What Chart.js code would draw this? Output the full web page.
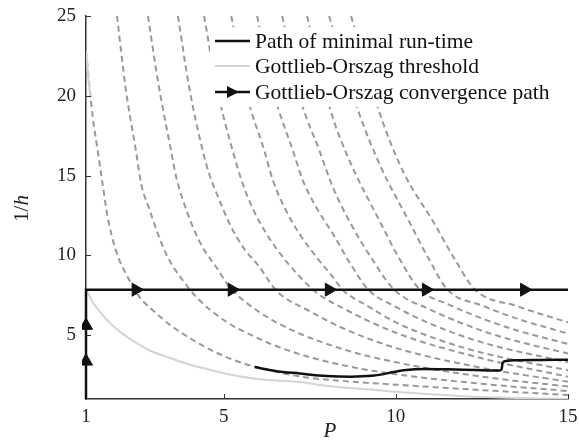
<!DOCTYPE html>
<html>
<head>
<meta charset="utf-8">
<script src="https://cdn.jsdelivr.net/npm/chart.js@4.4.0/dist/chart.umd.min.js"></script>
<style>
body { margin: 0; background: #fff; }
canvas { display: block; }
</style>
</head>
<body>
<canvas id="chart" width="579" height="444"></canvas>
<script>
// axis ticks
var xTicks = [1, 5, 10, 15]
var yTicks = [5, 10, 15, 20, 25]

// run-time contours, [P, 1/h] pairs, lowest first
var contour0 = [[1, 22.8], [1.2, 18.6], [1.34, 16.56], [1.48, 14.5], [1.63, 12.4], [1.87, 10.3], [2.26, 8.44], [2.55, 7.4], [3.0, 6.45], [3.5, 5.55], [4.3, 4.45], [5.0, 3.7], [5.7, 3.15], [7.2, 2.42], [8.5, 2.12], [10, 1.9], [12, 1.62], [15, 1.25]]
var contour1 = [[1.9, 25], [2.15, 20.5], [2.45, 16.56], [2.6, 14.5], [2.84, 12.9], [3.08, 11.4], [3.37, 9.9], [3.81, 8.44], [4.2, 7.4], [5, 5.95], [6, 4.8], [7, 3.95], [8.5, 3.1], [10, 2.55], [12.5, 1.95], [15, 1.5]]
var contour2 = [[2.8, 25], [3.1, 20.8], [3.47, 16.56], [3.62, 14.9], [3.81, 13.5], [4.1, 11.8], [4.39, 10.5], [4.78, 9.27], [5.17, 8.02], [6, 6.5], [7, 5.3], [8.5, 4.1], [10, 3.3], [12.5, 2.4], [15, 1.78]]
var contour3 = [[3.67, 25], [4.0, 20.5], [4.39, 16.56], [4.58, 15.1], [4.88, 13.44], [5.17, 11.98], [5.56, 10.52], [6.04, 9.27], [6.52, 7.81], [7.5, 6.5], [8.5, 5.4], [10, 4.2], [12.5, 2.95], [15, 2.08]]
var contour4 = [[4.43, 25], [4.8, 20.5], [5.26, 16.56], [5.55, 14.5], [5.85, 12.9], [6.23, 11.4], [6.62, 10.17], [7.1, 8.92], [7.69, 7.67], [8.5, 6.65], [10, 5.15], [12.5, 3.55], [15, 2.4]]
var contour5 = [[5.22, 25], [5.65, 20.2], [6.18, 16.56], [6.43, 14.69], [6.81, 12.81], [7.2, 11.35], [7.69, 9.9], [8.17, 8.64], [8.45, 7.85], [9.2, 6.8], [10, 5.8], [11.2, 4.75], [12.5, 3.9], [15, 2.8]]
var contour6 = [[5.97, 25], [6.45, 20.2], [7.01, 16.56], [7.3, 14.69], [7.69, 13.0], [8.17, 11.35], [8.7, 9.4], [9.2, 7.85], [10, 6.77], [11, 5.72], [12.5, 4.55], [15, 3.3]]
var contour7 = [[6.7, 25], [7.2, 20.0], [7.78, 16.56], [8.17, 14.27], [8.67, 12.06], [9.3, 9.8], [9.95, 7.85], [11, 6.6], [12.5, 5.28], [13.5, 4.63], [15, 3.85]]
var contour8 = [[7.42, 25], [8.1, 19.1], [8.6, 16.2], [9.55, 12.06], [10.1, 9.8], [10.7, 7.85], [11.5, 6.95], [12.5, 6.05], [13.5, 5.31], [15, 4.45]]
var contour9 = [[8.06, 25], [8.9, 19.1], [9.55, 15.6], [10.4, 12.06], [10.95, 9.8], [11.5, 7.85], [12.5, 6.86], [13.5, 6.05], [15, 5.1]]
var contour10 = [[8.7, 25], [9.5, 19.1], [10.2, 15.3], [11.1, 12.06], [11.7, 9.8], [12.3, 7.85], [13.5, 6.83], [15, 5.8]]

// Gottlieb-Orszag threshold (short piece near the top of the 1/h axis, then the main curve)
var thresholdTop = [[1, 22.8], [1.06, 21.3], [1.12, 19.9]]
var threshold = [[1, 7.85], [1.2, 7.05], [1.41, 6.44], [1.7, 5.75], [2, 5.19], [2.4, 4.6], [2.86, 4.04], [3.4, 3.6], [3.93, 3.21], [4.5, 2.88], [5, 2.62], [6, 2.25], [7.2, 2.06], [8.1, 1.8], [9.5, 1.55], [10, 1.45], [11, 1.3], [12, 1.17], [13.5, 1.06], [15, 1.0]]

// path of minimal run-time
var minPath = [[5.9, 3.0], [6.5, 2.76], [7.2, 2.6], [8.0, 2.44], [8.7, 2.4], [9.3, 2.45], [9.65, 2.56], [9.9, 2.68], [10.3, 2.82], [10.8, 2.88], [11.5, 2.86], [12.3, 2.82], [13.0, 2.79], [13.07, 2.85], [13.1, 3.25], [13.2, 3.38], [13.5, 3.43], [14.2, 3.45], [15, 3.46]]

// Gottlieb-Orszag convergence path, arrows where markerAngle is set
var convP = [1, 1, 1, 1, 2.45, 5.24, 8.06, 10.88, 13.73, 15]
var convH = [1, 3.36, 5.6, 7.85, 7.85, 7.85, 7.85, 7.85, 7.85, 7.85]
var markerAngle = [null, 0, 0, null, 90, 90, 90, 90, 90, null]

var legendLabels = ['Path of minimal run-time', 'Gottlieb-Orszag threshold', 'Gottlieb-Orszag convergence path']

var serif = "'Liberation Serif', 'DejaVu Serif', serif"
var axisColor = '#333'

function pts(list) {
	return list.map(function(p) { return { x: p[0], y: p[1] } })
}

var contours = [contour0, contour1, contour2, contour3, contour4, contour5, contour6, contour7, contour8, contour9, contour10]
var datasets = contours.map(function(c) {
	return {
		data: pts(c),
		showLine: true,
		borderColor: '#999',
		borderWidth: 2,
		borderDash: [6, 4],
		pointRadius: 0,
		cubicInterpolationMode: 'monotone',
		clip: 0,
		order: 5
	}
})

var thresholdData = pts(thresholdTop).concat([{ x: 1.13, y: null }], pts(threshold))
datasets.push({
	data: thresholdData,
	showLine: true,
	spanGaps: false,
	borderColor: '#d4d4d4',
	borderWidth: 2,
	pointRadius: 0,
	cubicInterpolationMode: 'monotone',
	clip: 0,
	order: 4
})

datasets.push({
	data: pts(minPath),
	showLine: true,
	borderColor: '#111',
	borderWidth: 2.5,
	pointRadius: 0,
	cubicInterpolationMode: 'monotone',
	clip: 0,
	order: 3
})

datasets.push({
	data: convP.map(function(p, i) { return { x: p, y: convH[i] } }),
	showLine: true,
	borderColor: '#111',
	borderWidth: 2.5,
	tension: 0,
	pointStyle: 'triangle',
	pointRadius: markerAngle.map(function(a) { return a === null ? 0 : 7.5 }),
	pointRotation: markerAngle.map(function(a) { return a === null ? 0 : a }),
	pointBackgroundColor: '#111',
	pointBorderColor: '#111',
	pointBorderWidth: 1,
	clip: { left: 4, top: 0, right: 2, bottom: 4 },
	order: 1
})

// inward tick marks, axis titles and the legend box
var decorations = {
	id: 'decorations',
	afterDraw: function(chart) {
		var ctx = chart.ctx
		var xs = chart.scales.x
		var ys = chart.scales.y
		var area = chart.chartArea

		ctx.save()
		ctx.strokeStyle = axisColor
		ctx.lineWidth = 1
		xTicks.forEach(function(v) {
			if (v === 1) return
			var px = Math.round(xs.getPixelForValue(v)) + 0.5
			ctx.beginPath()
			ctx.moveTo(px, area.bottom)
			ctx.lineTo(px, area.bottom - 5)
			ctx.stroke()
		})
		yTicks.forEach(function(v) {
			var py = Math.round(ys.getPixelForValue(v)) + 0.5
			ctx.beginPath()
			ctx.moveTo(area.left, py)
			ctx.lineTo(area.left + 5, py)
			ctx.stroke()
		})

		// axis titles
		ctx.fillStyle = '#222'
		ctx.textBaseline = 'middle'
		ctx.font = 'italic 21px ' + serif
		ctx.textAlign = 'center'
		ctx.fillText('P', (area.left + area.right) / 2 + 3, 431)

		ctx.save()
		ctx.translate(22, (area.top + area.bottom) / 2 + 1)
		ctx.rotate(-Math.PI / 2)
		ctx.textAlign = 'left'
		ctx.font = '21px ' + serif
		var w1 = ctx.measureText('1/').width
		ctx.font = 'italic 21px ' + serif
		var w2 = ctx.measureText('h').width
		var start = -(w1 + w2) / 2
		ctx.font = '21px ' + serif
		ctx.fillText('1/', start, 0)
		ctx.font = 'italic 21px ' + serif
		ctx.fillText('h', start + w1, 0)
		ctx.restore()

		// legend
		var lx = 210, ly = 27
		ctx.fillStyle = '#fff'
		ctx.fillRect(lx, ly, 352, 80)
		var rows = [41, 66, 92]
		var colors = ['#111', '#d4d4d4', '#111']
		rows.forEach(function(y, i) {
			ctx.strokeStyle = colors[i]
			ctx.lineWidth = i === 1 ? 2 : 2.5
			ctx.beginPath()
			ctx.moveTo(215, y)
			ctx.lineTo(250, y)
			ctx.stroke()
			ctx.fillStyle = '#111'
			ctx.font = '21.5px ' + serif
			ctx.textAlign = 'left'
			ctx.fillText(legendLabels[i], 255, y + 1)
		})
		ctx.fillStyle = '#111'
		ctx.beginPath()
		ctx.moveTo(239, 92)
		ctx.lineTo(227, 86)
		ctx.lineTo(227, 98)
		ctx.closePath()
		ctx.fill()
		ctx.restore()
	}
}

new Chart(document.getElementById('chart'), {
	type: 'scatter',
	data: { datasets: datasets },
	options: {
		responsive: false,
		animation: false,
		devicePixelRatio: 1,
		layout: { padding: { left: 0, top: 16, right: 11, bottom: 0 } },
		plugins: {
			legend: { display: false },
			tooltip: { enabled: false }
		},
		scales: {
			x: {
				type: 'linear',
				min: 1,
				max: 15,
				afterBuildTicks: function(s) { s.ticks = xTicks.map(function(v) { return { value: v } }) },
				afterFit: function(s) { s.height = 45 },
				ticks: { font: { family: serif, size: 19 }, color: '#222', padding: -1, maxRotation: 0 },
				grid: { display: false },
				border: { display: true, color: axisColor, width: 1.5 }
			},
			y: {
				type: 'linear',
				min: 1,
				max: 25,
				afterBuildTicks: function(s) { s.ticks = yTicks.map(function(v) { return { value: v } }) },
				afterFit: function(s) { s.width = 86 },
				ticks: { font: { family: serif, size: 19 }, color: '#222', padding: 2 },
				grid: { display: false },
				border: { display: true, color: axisColor, width: 1.5 }
			}
		}
	},
	plugins: [decorations]
})
</script>
</body>
</html>
